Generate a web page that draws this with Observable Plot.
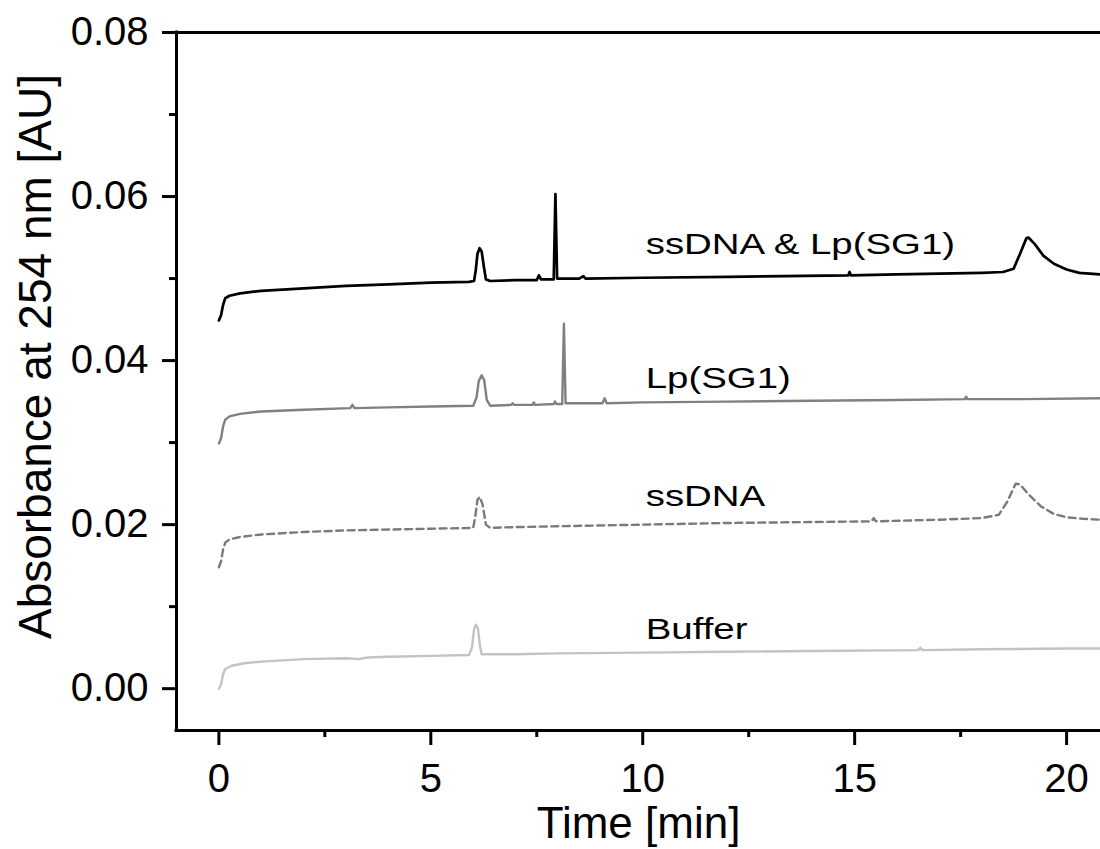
<!DOCTYPE html>
<html><head><meta charset="utf-8">
<script src="https://cdn.jsdelivr.net/npm/d3@7"></script>
<script src="https://cdn.jsdelivr.net/npm/@observablehq/plot@0.6"></script>
<style>body{margin:0;background:#fff}</style>
</head><body><div id="chart"></div>
<script>
// ---- data ----
const seriesNames = ["ssDNA & Lp(SG1)", "Lp(SG1)", "ssDNA", "Buffer"];
const labelTime = [10.07, 10.07, 10.07, 10.07];
const labelAbs = [0.0530, 0.0367, 0.0223, 0.0060];

const timeMix = [0,0.05,0.1,0.15,0.25,0.5,1,2,3,4,5,5.9,6.02,6.06,6.1,6.15,6.2,6.25,6.3,6.4,7,7.5,7.55,7.6,7.9,7.94,7.98,8.5,8.6,8.65,10,12,14.85,14.88,14.91,16,17,18,18.5,18.75,18.9,19.05,19.1,19.25,19.45,19.7,20,20.3,20.8];
const absMix  = [0.0449,0.0455,0.0468,0.0476,0.0479,0.0482,0.0485,0.0488,0.0491,0.0493,0.0495,0.0496,0.0497,0.0510,0.0530,0.0537,0.0533,0.0515,0.0499,0.0497,0.0498,0.0498,0.0504,0.0499,0.0499,0.0603,0.0500,0.0500,0.0503,0.0500,0.0501,0.0502,0.0504,0.0508,0.0504,0.0505,0.0506,0.0507,0.0508,0.0512,0.0530,0.0549,0.0550,0.0542,0.0528,0.0518,0.0511,0.0507,0.0505];

const timeLp = [0,0.05,0.1,0.15,0.25,0.5,1,2,3.1,3.15,3.2,4,5,6.0,6.08,6.13,6.2,6.26,6.32,6.4,6.9,6.93,6.96,7.4,7.43,7.46,7.9,7.93,7.96,8.1,8.14,8.18,9.05,9.1,9.15,10,12,14,16,17.6,17.63,17.66,19,20.8];
const absLp  = [0.0299,0.0305,0.0320,0.0328,0.0332,0.0335,0.0338,0.0340,0.0342,0.0346,0.0342,0.0343,0.0344,0.0345,0.0355,0.0375,0.0382,0.0376,0.0352,0.0345,0.0346,0.0348,0.0346,0.0346,0.0349,0.0346,0.0347,0.0350,0.0347,0.0347,0.0445,0.0348,0.0348,0.0354,0.0348,0.0349,0.0350,0.0351,0.0352,0.0353,0.0356,0.0353,0.0353,0.0354];

const timeDNA = [0,0.05,0.1,0.15,0.25,0.5,1,2,3,4,5,6.0,6.05,6.1,6.15,6.22,6.3,6.4,7,8,10,12,15.4,15.45,15.5,17,18,18.4,18.6,18.8,18.9,19.1,19.4,19.7,20,20.4,20.8];
const absDNA  = [0.0148,0.0155,0.0170,0.0178,0.0182,0.0185,0.0188,0.0191,0.0193,0.0194,0.0195,0.0196,0.0210,0.0230,0.0234,0.0225,0.0200,0.0196,0.0197,0.0198,0.0200,0.0202,0.0204,0.0208,0.0204,0.0206,0.0208,0.0212,0.0228,0.0250,0.0249,0.0237,0.0222,0.0213,0.0209,0.0207,0.0206];

const timeBuf = [0,0.05,0.1,0.15,0.3,0.6,1,2,3,3.3,3.5,4,5,5.9,5.97,6.02,6.06,6.11,6.16,6.2,7,8,10,12,14,16.5,16.55,16.6,18,20,20.8];
const absBuf  = [0.0000,0.0005,0.0018,0.0024,0.0028,0.0031,0.0033,0.0036,0.0037,0.0036,0.0038,0.0039,0.0040,0.0041,0.0050,0.0072,0.0078,0.0074,0.0052,0.0042,0.0042,0.0043,0.0044,0.0045,0.0046,0.0047,0.0050,0.0047,0.0048,0.0049,0.0049];

const xMajor = [0, 5, 10, 15, 20];
const xMinor = [2.5, 7.5, 12.5, 17.5];
const yMajor = [0, 0.02, 0.04, 0.06, 0.08];
const yMinor = [0.01, 0.03, 0.05, 0.07];
const xDomain = [-1, 20.8];
const yDomain = [-0.0051, 0.08];

const toRows = (ts, vs) => ts.map((t, i) => ({t, v: vs[i]}));
const labels = seriesNames.map((name, i) => ({name, t: labelTime[i], v: labelAbs[i]}));

const font = "'Liberation Sans', Arial, Helvetica, sans-serif";
const plot = Plot.plot({
  width: 1100, height: 849,
  marginTop: 32, marginBottom: 119, marginLeft: 176, marginRight: 0,
  x: {domain: xDomain},
  y: {domain: yDomain},
  style: {fontFamily: font, background: "#fff", color: "#000", overflow: "visible"},
  marks: [
    Plot.axisY(yMajor, {tickSize: 14, tickPadding: 14, strokeWidth: 3, fontSize: 40, tickFormat: d3.format(".2f"), label: null}),
    Plot.axisY(yMinor, {tickSize: 7, strokeWidth: 3, text: null, label: null}),
    Plot.axisX(xMajor, {tickSize: 15, tickPadding: 18, strokeWidth: 3, fontSize: 40, label: null}),
    Plot.axisX(xMinor, {tickSize: 7, strokeWidth: 3, text: null, label: null}),
    Plot.ruleX([xDomain[0]], {strokeWidth: 3, strokeLinecap: "square"}),
    Plot.ruleY([yDomain[0], yDomain[1]], {strokeWidth: 3, strokeLinecap: "square"}),
    Plot.line(toRows(timeBuf, absBuf), {x: "t", y: "v", stroke: "#c3c3c3", strokeWidth: 2.4}),
    Plot.line(toRows(timeDNA, absDNA), {x: "t", y: "v", stroke: "#7a7a7a", strokeWidth: 2.4, strokeDasharray: "7,4.5"}),
    Plot.line(toRows(timeLp, absLp), {x: "t", y: "v", stroke: "#808080", strokeWidth: 2.4}),
    Plot.line(toRows(timeMix, absMix), {x: "t", y: "v", stroke: "#000", strokeWidth: 2.7}),
    Plot.text(labels, {x: "t", y: "v", text: "name", textAnchor: "start", lineAnchor: "bottom", fontSize: 30}),
    Plot.text(["Time [min]"], {frameAnchor: "bottom", text: d => d, textAnchor: "middle", lineAnchor: "bottom", dy: 107, fontSize: 44}),
    Plot.text(["Absorbance at 254 nm [AU]"], {frameAnchor: "left", text: d => d, rotate: -90, textAnchor: "middle", lineAnchor: "bottom", dx: -126, dy: -25, fontSize: 46})
  ]
});
document.getElementById("chart").appendChild(plot);
// the reference's curve labels are horizontally stretched
plot.querySelectorAll("text").forEach(t => {
  if (!seriesNames.includes(t.textContent)) return;
  const w = t.getComputedTextLength();
  t.setAttribute("textLength", (w * 1.28).toFixed(1));
  t.setAttribute("lengthAdjust", "spacingAndGlyphs");
});
</script>
</body></html>
